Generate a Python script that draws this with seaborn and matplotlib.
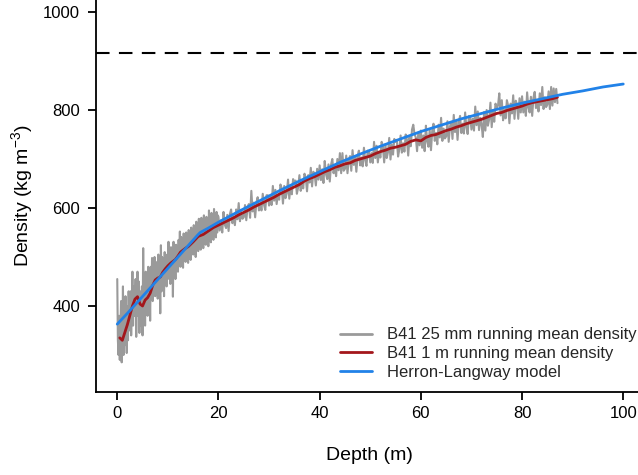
import numpy as np
import pandas as pd
import matplotlib
matplotlib.use("Agg")
import matplotlib.pyplot as plt
import seaborn as sns

# ---------------- data ----------------
# 25 mm running mean density, upper part (0.125 m sampling from 0 m)
grey_top_start, grey_top_step = 0.0, 0.125
grey_top = [
    455, 330, 300, 380, 290, 350, 410, 285, 330, 440, 300, 395, 320, 420, 350, 304, 400, 330, 430, 360,
    350, 430, 340, 410, 470, 360, 440, 380, 400, 455, 337, 420, 470, 380, 450, 345, 430, 390, 360, 440,
    340, 518, 380, 450, 360, 470, 395, 445, 380, 480, 400, 460, 370, 480, 420, 498, 410, 470, 430, 500,
    420, 490, 440, 475, 415, 505, 450, 480, 385, 524, 430, 500, 445, 470, 420, 510, 455, 500, 440, 505,
    455, 531, 460, 500, 445, 520, 470, 510, 419, 531, 465, 515, 455, 525, 480, 510, 470, 535, 490, 552,
    480, 541, 495, 530, 478, 548, 500, 535, 490, 550, 505, 540, 488, 555, 500, 545, 494, 560, 510, 552,
    505, 565, 515, 550, 500, 572, 520, 560, 512, 578, 525, 565, 515, 580, 528, 560, 518, 585, 530, 570,
    525, 582, 535, 570, 522, 595, 540, 578, 530, 590, 545, 575, 535, 598, 548, 580, 540, 592, 550, 585]
# lower part (0.25 m sampling from 20 m), one row per 5 m
grey_low_start, grey_low_step = 20.0, 0.25
grey_low = [
    582, 554, 575, 550, 592, 566, 559, 586, 553, 587, 597, 569, 583, 565, 597, 577, 610, 573, 593, 578,
    581, 606, 575, 600, 608, 580, 635, 593, 611, 581, 611, 622, 595, 610, 595, 629, 607, 596, 626, 626,
    605, 623, 606, 645, 615, 637, 608, 628, 617, 648, 640, 609, 645, 620, 630, 658, 619, 646, 628, 659,
    653, 656, 629, 642, 667, 635, 653, 640, 670, 662, 634, 667, 652, 682, 644, 674, 669, 646, 680, 658,
    687, 657, 679, 651, 696, 669, 659, 689, 654, 688, 700, 671, 685, 665, 700, 677, 712, 671, 712, 676,
    680, 707, 671, 697, 706, 676, 718, 688, 706, 674, 706, 717, 687, 703, 685, 723, 698, 686, 717, 715,
    693, 712, 692, 735, 702, 727, 693, 715, 703, 735, 725, 693, 730, 702, 714, 743, 699, 729, 709, 741,
    735, 739, 705, 720, 748, 713, 732, 715, 750, 739, 707, 744, 726, 760, 770, 751, 744, 716, 754, 728,
    758, 723, 748, 716, 768, 736, 725, 759, 718, 758, 772, 737, 753, 730, 770, 744, 784, 737, 762, 742,
    746, 777, 735, 766, 776, 741, 790, 755, 777, 739, 775, 788, 753, 772, 752, 795, 765, 751, 788, 786,
    760, 782, 758, 807, 769, 797, 759, 784, 770, 745, 796, 758, 800, 768, 781, 815, 765, 799, 776, 813,
    805, 809, 834, 789, 820, 779, 800, 783, 820, 809, 773, 813, 793, 830, 782, 819, 811, 782, 824, 795,
    828, 795, 817, 788, 836, 805, 795, 827, 788, 825, 837, 804, 819, 797, 834, 810, 847, 802, 826, 806,
    811, 838, 802, 847, 809, 844, 816, 843, 814]

# 1 m running mean density
red_depth = [0.5, 1.0, 1.5, 2.0, 2.5, 3.0, 3.5, 4.0, 4.5, 5.0,
             5.5, 6.0, 6.5, 7.0, 7.5, 8.0, 8.5, 9.0, 9.5, 10.0,
             10.5, 11.0, 11.5, 12.0, 12.5, 13.0, 13.5, 14.0, 14.5, 15.0,
             16, 17, 18, 19, 20, 21, 22, 23, 24, 25,
             26, 27, 28, 29, 30, 31, 32, 33, 34, 35,
             36, 37, 38, 39, 40, 41, 42, 43, 44, 45,
             46, 47, 48, 49, 50, 51, 52, 53, 54, 55,
             56, 57, 58, 59, 60, 61, 62, 63, 64, 65,
             66, 67, 68, 69, 70, 71, 72, 73, 74, 75,
             76, 77, 78, 79, 80, 81, 82, 83, 84, 85,
             86, 87]
red_dens = [335, 330, 346, 362, 381, 400, 414, 419, 404, 400,
            412, 417, 426, 442, 453, 457, 459, 469, 476, 482,
            487, 491, 495, 502, 510, 514, 518, 521, 526, 531,
            542, 546, 553, 560, 565, 570, 575, 580, 586, 591,
            596, 602, 607, 612, 617, 622, 628, 633, 638, 643,
            648, 655, 660, 664, 669, 674, 678, 683, 686, 690,
            692, 697, 700, 703, 706, 711, 715, 718, 722, 724,
            727, 730, 736, 739, 737, 744, 748, 750, 754, 758,
            761, 765, 768, 772, 775, 778, 781, 785, 789, 793,
            795, 799, 802, 805, 808, 812, 815, 817, 819, 821,
            823, 826]

# Herron-Langway model
hl_depth = [0, 2, 4, 6, 8, 10, 12, 14, 16, 16.4, 18, 20, 24, 28, 32, 36,
            40, 44, 48, 52, 56, 60, 64, 68, 72, 76, 80, 84, 88, 92, 96, 100]
hl_dens = [363, 385, 408, 431, 454, 477, 500, 523, 546, 550, 559, 571, 593,
           614, 635, 655, 674, 693, 710, 726, 741, 756, 769, 782, 793, 804,
           814, 823, 832, 839, 847, 853]

ice_density = 917

labels = ["B41 25 mm running mean density",
          "B41 1 m running mean density",
          "Herron-Langway model"]
x_ticks = [0, 20, 40, 60, 80, 100]
y_ticks = [400, 600, 800, 1000]

# ---------------- tables ----------------
grey_depth = np.concatenate([
    grey_top_start + grey_top_step * np.arange(len(grey_top)),
    grey_low_start + grey_low_step * np.arange(len(grey_low))])
df_grey = pd.DataFrame({"depth": grey_depth,
                        "density": np.array(grey_top + grey_low, float)})
df_red = pd.DataFrame({"depth": red_depth, "density": red_dens})
df_hl = pd.DataFrame({"depth": hl_depth, "density": hl_dens})

# ---------------- figure ----------------
sns.set_style("ticks")
plt.rcParams["font.family"] = ["Liberation Sans", "DejaVu Sans"]
plt.rcParams["mathtext.default"] = "regular"

W, H = 638, 475
fig = plt.figure(figsize=(W / 100, H / 100), dpi=100)
ax = fig.add_axes([96 / W, (H - 391.5) / H, 547.5 / W, 391.5 / H])

c_grey, c_red, c_blue = "#9A9A9A", "#A3161B", "#2182E8"

sns.lineplot(data=df_grey, x="depth", y="density", color=c_grey, lw=1.5,
             estimator=None, sort=False, ax=ax, label=labels[0])
sns.lineplot(data=df_red, x="depth", y="density", color=c_red, lw=2.0,
             estimator=None, sort=False, ax=ax, label=labels[1])
sns.lineplot(data=df_hl, x="depth", y="density", color=c_blue, lw=2.0,
             estimator=None, sort=False, ax=ax, label=labels[2])
ax.axhline(ice_density, color="black", lw=1.5, dashes=(6.5, 4.5))

ax.set_xlim(-4.2, 104)
ax.set_ylim(225.5, 1024.5)
ax.set_xticks(x_ticks)
ax.set_yticks(y_ticks)
ax.set_xticklabels([str(v) for v in x_ticks])
ax.set_yticklabels([str(v) for v in y_ticks])

for side in ("top", "right"):
    ax.spines[side].set_visible(False)
for side in ("left", "bottom"):
    ax.spines[side].set_color("black")
    ax.spines[side].set_linewidth(1.3)

ax.tick_params(axis="both", length=5.8, width=1.3, color="black",
               labelsize=12, labelcolor="black")
ax.tick_params(axis="y", pad=5.8)
ax.tick_params(axis="x", pad=4.7)

ax.set_xlabel("Depth (m)", fontsize=14, color="black")
ax.set_ylabel("Density (kg m$^{-3}$)", fontsize=14, color="black")
ax.xaxis.label.set_va("center")
ax.yaxis.label.set_va("center")
ax.xaxis.set_label_coords(0.5, (391.5 - 455) / 391.5)
ax.yaxis.set_label_coords((22 - 96) / 547.5, 0.5)

leg = ax.legend(loc="upper left", bbox_to_anchor=(340 / W, 1 - 327.5 / H),
                bbox_transform=fig.transFigure, frameon=False, fontsize=12,
                handlelength=1.9, handletextpad=0.9, labelspacing=0.22,
                borderpad=0, borderaxespad=0)
for line in leg.get_lines():
    line.set_linewidth(2.0)

fig.savefig("out.png", dpi=100)
